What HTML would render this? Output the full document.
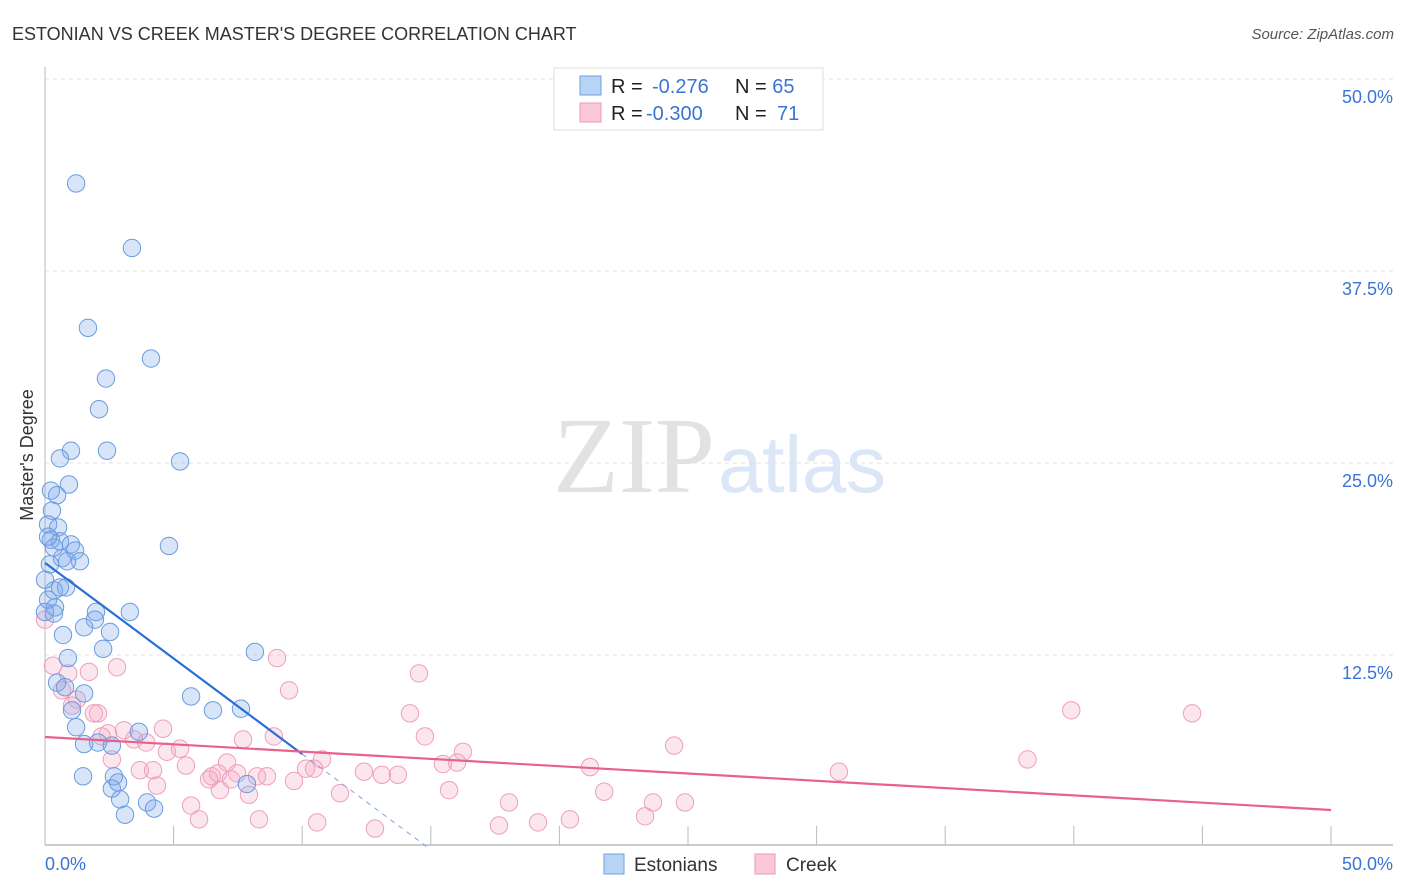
<!DOCTYPE html>
<html><head><meta charset="utf-8">
<style>
body{margin:0;background:#fff;font-family:"Liberation Sans",sans-serif;}
svg{display:block}
</style></head>
<body>
<svg id="chart" width="1406" height="892">
<text x="12" y="40" font-size="18" fill="#333">ESTONIAN VS CREEK MASTER'S DEGREE CORRELATION CHART</text>
<text x="1394" y="39" font-size="15" fill="#555" font-style="italic" text-anchor="end">Source: ZipAtlas.com</text>
<g>
<text x="553" y="492" font-family="Liberation Serif,serif" font-size="108" fill="#e2e2e2" textLength="162">ZIP</text>
<text x="718" y="492" font-size="80" fill="#dbe6f6" textLength="168">atlas</text>
</g>
<g id="grid"></g>
<g id="axes"></g>
<g id="pts"></g>
<g id="lines"></g>
<text x="33" y="455" font-size="18" fill="#333" text-anchor="middle" transform="rotate(-90 33 455)">Master's Degree</text>
<g>
<rect x="554" y="68" width="269" height="62" fill="#fff" stroke="#ddd"/>
<rect x="580" y="76" width="21" height="19" fill="#b8d4f5" stroke="#6f9fe0"/>
<rect x="580" y="103" width="21" height="19" fill="#fac8d6" stroke="#eb9ab2"/>
<text x="611" y="93" font-size="20" fill="#222">R = </text><text x="652" y="93" font-size="20" fill="#3b74d4">-0.276</text>
<text x="735" y="93" font-size="20" fill="#222">N = <tspan fill="#3b74d4">65</tspan></text>
<text x="611" y="120" font-size="20" fill="#222">R = </text><text x="646" y="120" font-size="20" fill="#3b74d4">-0.300</text>
<text x="735" y="120" font-size="20" fill="#222">N = </text><text x="777" y="120" font-size="20" fill="#3b74d4">71</text>
</g>
<g>
<rect x="604" y="854" width="20" height="20" fill="#b8d4f5" stroke="#6f9fe0"/>
<text x="634" y="871" font-size="19" fill="#333">Estonians</text>
<rect x="755" y="854" width="20" height="20" fill="#fac8d6" stroke="#eb9ab2"/>
<text x="786" y="871" font-size="19" fill="#333">Creek</text>
</g>
</svg>
<script>
const yTicks=[12.5,25,37.5,50];
const yTickLabels=["12.5%","25.0%","37.5%","50.0%"];
const estX=[1.21,3.38,1.67,4.12,2.37,2.10,1.01,2.41,0.58,5.25,0.93,0.47,0.23,0.27,0.51,0.12,0.23,0.58,1.01,1.17,1.36,0.66,0.86,4.82,0.19,0.35,0.82,0.12,0.39,0.35,1.98,1.94,3.30,1.52,2.53,0.70,8.16,2.26,0.89,0.47,1.52,0.78,5.68,6.53,7.62,1.05,1.21,3.65,2.06,1.52,2.60,1.48,2.68,2.60,2.84,2.92,3.11,3.97,4.24,7.85,0.0,0.0,0.35,0.12,0.58];
const estY=[43.2,39.0,33.8,31.8,30.5,28.5,25.8,25.8,25.3,25.1,23.6,22.9,23.2,21.9,20.8,21.0,20.0,19.9,19.7,19.3,18.6,18.8,18.6,19.6,18.4,16.7,16.9,16.1,15.6,15.2,15.3,14.8,15.3,14.3,14.0,13.8,12.7,12.9,12.3,10.7,10.0,10.4,9.8,8.9,9.0,8.9,7.8,7.5,6.8,6.7,6.6,4.6,4.6,3.8,4.2,3.1,2.1,2.9,2.5,4.1,15.3,17.4,19.5,20.2,16.9];
const creX=[0.31,1.71,2.80,9.02,14.54,9.49,0.66,1.24,1.05,2.06,14.19,39.9,44.6,2.45,3.07,4.59,3.46,3.93,5.25,4.74,7.70,8.90,14.77,24.46,16.25,10.77,2.60,5.48,7.08,15.47,16.02,21.19,38.2,30.87,3.69,4.20,6.49,6.73,7.47,8.24,8.63,7.23,6.38,12.40,13.10,13.72,10.15,10.46,4.35,6.80,7.93,9.68,11.47,15.71,21.74,5.68,18.04,23.64,24.88,5.99,8.32,10.58,12.83,17.65,19.17,20.41,23.33,0.0,1.9,2.2,0.9];
const creY=[11.8,11.4,11.7,12.3,11.3,10.2,10.2,9.6,9.2,8.7,8.7,8.9,8.7,7.4,7.6,7.7,7.0,6.8,6.4,6.2,7.0,7.2,7.2,6.6,6.2,5.7,5.7,5.3,5.5,5.4,5.5,5.2,5.7,4.9,5.0,5.0,4.6,4.8,4.8,4.6,4.6,4.4,4.4,4.9,4.7,4.7,5.1,5.1,4.0,3.7,3.4,4.3,3.5,3.7,3.6,2.7,2.9,2.9,2.9,1.8,1.8,1.6,1.2,1.4,1.6,1.8,2.0,14.8,8.7,7.2,11.3];
const estLine=[18.5,-1.245]; // intercept, slope
const creLine=[7.16,-0.095];
const NS="http://www.w3.org/2000/svg";
const X0=45,X1=1331,Y0=847,Y50=79;
const sx=v=>X0+(X1-X0)*v/50;
const sy=v=>Y0-(Y0-Y50)*v/50;
function mk(tag,attrs,parent){const e=document.createElementNS(NS,tag);for(const k in attrs)e.setAttribute(k,attrs[k]);parent.appendChild(e);return e;}
const grid=document.getElementById('grid'),axes=document.getElementById('axes');
yTicks.forEach((t,i)=>{
 const l=mk('line',{x1:45,x2:1393,y1:sy(t),y2:sy(t),stroke:'#e2e2e2','stroke-dasharray':'4,4'},grid);
 
 
 const tx=mk('text',{x:1393,y:sy(t)+24,'font-size':18,fill:'#3b74d4','text-anchor':'end'},axes);
 tx.textContent=yTickLabels[i];
 
 
});
mk('line',{x1:45,x2:45,y1:67,y2:845,stroke:'#bbb'},axes);
mk('line',{x1:45,x2:1393,y1:845,y2:845,stroke:'#bbb','stroke-width':1.5},axes);
for(let i=1;i<=10;i++){const x=sx(i*5);const t=mk('line',{x1:x,x2:x,y1:826,y2:845,stroke:'#bbb'},axes);
 
 }
const xl=mk('text',{x:45,y:870,'font-size':18,fill:'#3b74d4'},axes);xl.textContent='0.0%';


const xr=mk('text',{x:1393,y:870,'font-size':18,fill:'#3b74d4','text-anchor':'end'},axes);xr.textContent='50.0%';


const pts=document.getElementById('pts');
creX.forEach((v,i)=>{const c=mk('circle',{cx:sx(v),cy:sy(creY[i]),r:8.7,fill:'rgba(245,165,195,0.28)',stroke:'#ee9fb8','stroke-width':1},pts);
 
 });
estX.forEach((v,i)=>{const c=mk('circle',{cx:sx(v),cy:sy(estY[i]),r:8.7,fill:'rgba(125,170,235,0.3)',stroke:'#6a9be0','stroke-width':1},pts);
 
 });
const lines=document.getElementById('lines');
const xEnd=10, xZero=-estLine[0]/estLine[1];
const b1=mk('line',{x1:sx(0),y1:sy(estLine[0]),x2:sx(xEnd),y2:sy(estLine[0]+estLine[1]*xEnd),stroke:'#2a6fd6','stroke-width':2.2},lines);


const b2=mk('line',{x1:sx(xEnd),y1:sy(estLine[0]+estLine[1]*xEnd),x2:sx(xZero),y2:sy(0),stroke:'#7fa6e0','stroke-width':1,'stroke-dasharray':'5,5'},lines);


const p1=mk('line',{x1:sx(0),y1:sy(creLine[0]),x2:sx(50),y2:sy(creLine[0]+creLine[1]*50),stroke:'#e8608c','stroke-width':2.2},lines);


</script>
</body></html>
